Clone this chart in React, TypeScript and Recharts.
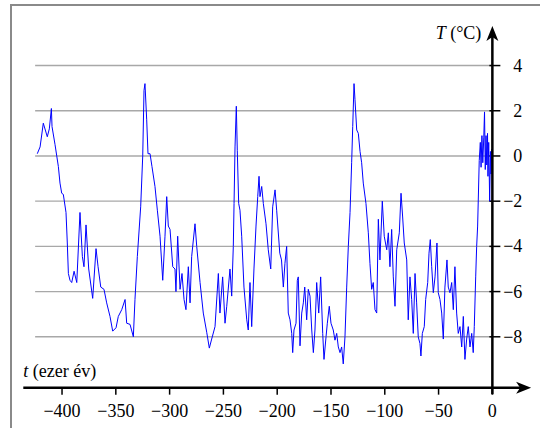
import React from 'react';
import { LineChart, Line, XAxis, YAxis, ReferenceLine } from 'recharts';

// age in thousand years (negative = before present)
const ageKa = [
  -423.0, -420.4, -417.4, -413.7, -411.8, -409.9, -409.3, -406.5, -403.4, -401.9,
  -400.3, -398.8, -396.3, -395.1, -394.1, -392.6, -391.0, -388.8, -386.3, -383.3,
  -381.1, -379.6, -377.7, -375.2, -371.5, -368.4, -366.5, -364.0, -361.0, -358.5,
  -355.4, -352.9, -349.8, -347.7, -344.5, -341.4, -339.9, -336.8, -333.7, -332.2,
  -330.0, -326.9, -325.0, -323.8, -322.9, -321.3, -320.1, -318.2, -316.4, -313.6,
  -311.4, -308.9, -306.4, -304.3, -302.7, -301.2, -299.6, -297.1, -295.0, -294.1,
  -292.5, -290.3, -288.5, -286.6, -284.8, -282.6, -281.0, -279.5, -276.4, -274.8,
  -271.7, -268.7, -265.5, -263.1, -260.9, -257.8, -254.7, -253.2, -250.7, -248.5,
  -246.9, -243.9, -242.3, -240.8, -240.1, -239.2, -238.0, -237.1, -235.8, -234.6,
  -233.0, -230.9, -228.3, -226.9, -225.3, -223.7, -221.6, -219.7, -218.1, -216.9,
  -216.0, -214.4, -212.9, -210.4, -208.3, -206.0, -204.2, -202.0, -200.5, -197.6,
  -196.0, -194.3, -192.8, -191.2, -189.7, -188.1, -186.5, -185.6, -184.4, -182.5,
  -181.3, -180.4, -178.8, -177.2, -175.7, -174.4, -172.6, -171.1, -169.5, -167.9,
  -166.4, -164.9, -163.3, -161.4, -159.6, -157.7, -156.5, -154.6, -153.4, -151.6,
  -150.0, -147.9, -146.3, -144.7, -143.2, -141.6, -140.1, -138.6, -137.0, -135.4,
  -133.9, -132.3, -130.8, -129.8, -128.6, -127.7, -126.1, -124.6, -123.0, -121.5,
  -120.0, -117.5, -115.3, -113.8, -112.2, -110.7, -109.1, -107.5, -106.0, -104.5,
  -102.3, -100.5, -98.2, -96.7, -95.2, -93.6, -92.1, -90.5, -88.9, -86.5,
  -84.9, -83.4, -81.9, -79.6, -78.2, -76.6, -75.0, -73.5, -71.9, -70.4,
  -68.9, -67.3, -66.4, -65.1, -63.3, -62.0, -60.1, -58.9, -57.7, -56.4,
  -54.9, -53.3, -51.5, -50.3, -48.7, -47.1, -45.6, -44.1, -42.2, -41.0,
  -39.4, -37.8, -36.3, -34.8, -33.2, -31.7, -30.1, -28.5, -27.0, -25.5,
  -23.9, -22.4, -20.8, -19.2, -17.8, -16.8, -15.5, -14.6, -13.7, -13.1,
  -12.2, -11.2, -10.5, -9.7, -8.9, -8.0, -7.3, -6.6, -5.9, -5.2,
  -4.5, -4.1, -3.4, -2.5, -1.8, -1.3, -0.6, 0,
];

// temperature difference from present, °C
const tempC = [
  0.1, 0.4, 1.45, 0.85, 1.2, 2.1, 1.3, 0.5, -0.47, -1.2,
  -1.65, -1.7, -2.5, -3.85, -5.2, -5.5, -5.6, -5.1, -5.6, -2.5,
  -4.45, -4.9, -3.05, -5.0, -6.3, -4.1, -4.9, -5.8, -5.9, -6.5,
  -7.1, -7.75, -7.6, -7.1, -6.8, -6.35, -7.4, -7.45, -8.0, -6.35,
  -4.45, -2.25, 0, 2.9, 3.2, 1.6, 0.1, 0.1, -0.47, -1.35,
  -2.4, -3.55, -5.5, -3.55, -1.8, -3.1, -3.25, -4.9, -5.0, -6.0,
  -3.55, -5.9, -5.2, -6.35, -6.8, -4.9, -6.5, -4.45, -3.0, -4.0,
  -5.6, -6.95, -7.8, -8.5, -8.1, -7.55, -5.2, -6.95, -5.35, -7.4,
  -6.65, -5.0, -6.2, -4.0, -2.1, 0.4, 2.2, 0.25, -2.1, -2.4,
  -3.55, -5.8, -7.25, -7.7, -5.6, -7.55, -5.0, -3.1, -1.8, -0.9,
  -1.8, -1.35, -2.1, -3.0, -4.15, -5.0, -2.25, -1.5, -2.4, -4.3,
  -4.6, -5.8, -4.75, -4.0, -6.95, -7.25, -7.85, -8.7, -7.7, -7.4,
  -5.5, -5.35, -8.4, -6.95, -6.5, -5.8, -7.25, -5.9, -6.2, -7.7,
  -8.7, -7.7, -5.6, -6.95, -5.35, -7.85, -9.0, -8.0, -7.4, -6.65,
  -7.4, -7.7, -8.15, -7.85, -8.45, -8.7, -8.45, -9.2, -8.0, -5.8,
  -4.0, -2.5, -0.3, 1.3, 3.2, 2.5, 1.15, 1.0, 0.2, -0.3,
  -1.2, -2.1, -3.4, -4.75, -5.9, -5.6, -6.8, -6.95, -2.8, -4.6,
  -2.0, -3.55, -4.15, -3.4, -4.9, -3.25, -5.35, -6.65, -4.15, -3.4,
  -1.65, -2.7, -3.85, -4.6, -7.25, -5.35, -6.35, -7.85, -5.2, -6.5,
  -8.0, -8.3, -8.85, -7.85, -7.55, -6.35, -5.6, -4.3, -3.7, -4.9,
  -6.05, -5.35, -3.85, -6.05, -6.35, -6.95, -8.1, -5.8, -4.6, -5.8,
  -6.05, -5.6, -6.8, -4.9, -6.95, -7.85, -7.55, -8.45, -7.1, -9.0,
  -8.1, -7.55, -8.45, -7.85, -8.7, -7.55, -5.35, -4.0, -3.1, -1.95,
  -0.2, 0.6, -0.5, 0.9, -0.3, 0.8, 1.95, -0.6, 0.9, -0.4,
  1.0, -0.9, 0.6, -2.0, 0.2, -0.8, 0.3, -0.2,
];

const xTicks = [-400, -350, -300, -250, -200, -150, -100, -50, 0];
const yTicks = [4, 2, 0, -2, -4, -6, -8];

const X_DOMAIN: [number, number] = [-436, 36];
const Y_DOMAIN: [number, number] = [-10.25, 5.75];
const GRID_FROM = -425;

const FONT = 'Liberation Serif';

const data = ageKa.map((t, i) => ({ t, temp: tempC[i] }));

const fmt = (v: number) => (v < 0 ? `\u2212${-v}` : `${v}`);

function GridShape(props: any) {
  const { x1, x2, y1, value } = props;
  const ax = Math.max(x1, x2);
  const left = Math.min(x1, x2);
  return (
    <g>
      <line x1={left} y1={y1} x2={ax} y2={y1} stroke="#a8a8a8" strokeWidth={1.4} />
      <line x1={ax - 3} y1={y1} x2={ax + 8} y2={y1} stroke="#000" strokeWidth={1.5} />
      <text x={ax + 30} y={y1 + 6} textAnchor="end" style={{ fontFamily: FONT, fontSize: 18 }} fill="#000">
        {fmt(value)}
      </text>
    </g>
  );
}

function YArrow(props: any) {
  const { x1, y1, y2 } = props;
  const top = Math.min(y1, y2);
  const bottom = Math.max(y1, y2);
  return (
    <g>
      <line x1={x1} y1={top + 10} x2={x1} y2={bottom + 6.5} stroke="#000" strokeWidth={2.5} />
      <polygon
        points={`${x1},${top} ${x1 - 6},${top + 15} ${x1},${top + 11} ${x1 + 6},${top + 15}`}
        fill="#000"
      />
      <text x={x1 - 11} y={top + 12.5} textAnchor="end" style={{ fontFamily: FONT, fontSize: 18 }} fill="#000">
        <tspan fontStyle="italic">T</tspan> (°C)
      </text>
    </g>
  );
}

function XArrow(props: any) {
  const { x1, x2, y1 } = props;
  const left = Math.min(x1, x2);
  const right = Math.max(x1, x2);
  return (
    <g>
      <line x1={left} y1={y1} x2={right - 10} y2={y1} stroke="#000" strokeWidth={2.5} />
      <polygon
        points={`${right},${y1} ${right - 15},${y1 - 6} ${right - 11},${y1} ${right - 15},${y1 + 6}`}
        fill="#000"
      />
      <text x={left} y={y1 - 10.5} style={{ fontFamily: FONT, fontSize: 18 }} fill="#000">
        <tspan fontStyle="italic">t</tspan> (ezer év)
      </text>
    </g>
  );
}

export default function App() {
  return (
    <div style={{ position: 'absolute', left: 0, top: 0, width: 540, height: 428, overflow: 'hidden', background: '#fff' }}>
      <div
        style={{
          position: 'absolute', left: 10, top: 4, width: 600, height: 500,
          border: '2px solid #8a8a8a',
        }}
      />
      <div style={{ position: 'absolute', left: 0, top: 0 }}>
        <LineChart
          width={540}
          height={428}
          data={data}
          margin={{ top: 26, right: 8.9, bottom: 10.35, left: 23.3 }}
        >
          <XAxis
            dataKey="t"
            type="number"
            domain={X_DOMAIN}
            ticks={xTicks}
            allowDataOverflow
            height={30}
            axisLine={false}
            tickSize={7}
            tickMargin={9.5}
            tickLine={{ stroke: '#000', strokeWidth: 1.5 }}
            tickFormatter={fmt}
            tick={{ fill: '#000', fontSize: 18, fontFamily: FONT }}
            interval={0}
          />
          <YAxis hide type="number" domain={Y_DOMAIN} allowDataOverflow />
          {yTicks.map((v) => (
            <ReferenceLine
              key={v}
              segment={[{ x: GRID_FROM, y: v }, { x: 0, y: v }]}
              ifOverflow="visible"
              shape={(p: any) => <GridShape {...p} value={v} />}
            />
          ))}
          <Line
            type="linear"
            dataKey="temp"
            stroke="#0000ff"
            strokeWidth={1}
            dot={false}
            isAnimationActive={false}
          />
          <ReferenceLine x={0} ifOverflow="visible" shape={(p: any) => <YArrow {...p} />} />
          <ReferenceLine y={Y_DOMAIN[0]} ifOverflow="visible" shape={(p: any) => <XArrow {...p} />} />
        </LineChart>
      </div>
    </div>
  );
}
